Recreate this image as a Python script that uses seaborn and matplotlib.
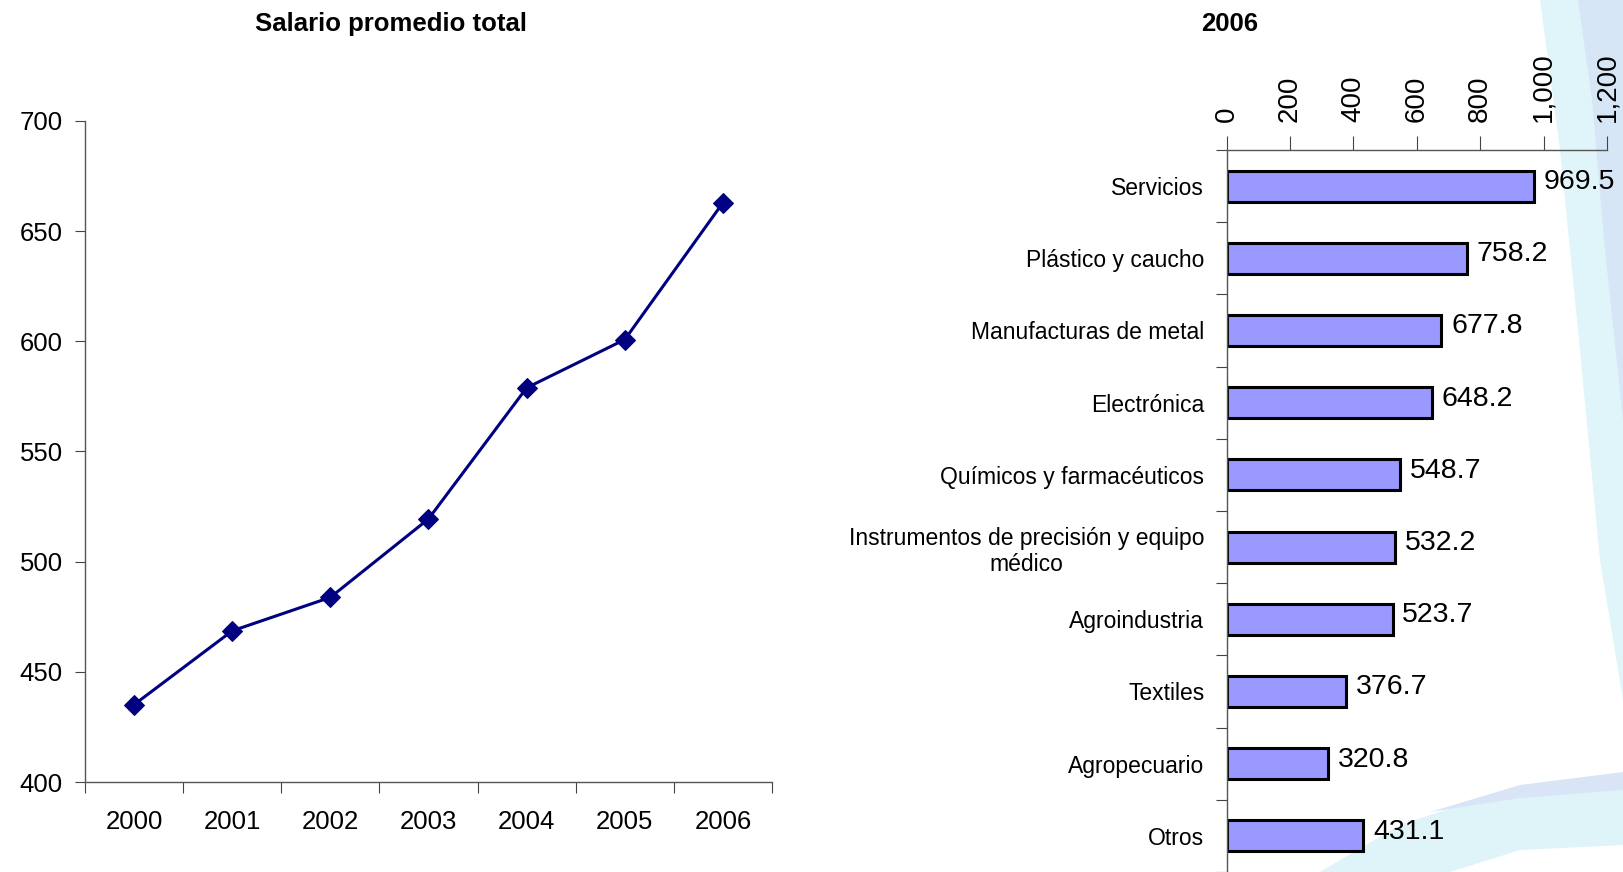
import matplotlib
matplotlib.use("Agg")
import matplotlib.pyplot as plt
import matplotlib.ticker as mticker
from matplotlib.patches import Polygon
import numpy as np
import pandas as pd
import seaborn as sns

# --- data ---
years = ["2000", "2001", "2002", "2003", "2004", "2005", "2006"]
salario = [435.1, 468.6, 483.8, 519.4, 578.9, 600.8, 662.9]

sectores = ["Servicios", "Plástico y caucho", "Manufacturas de metal", "Electrónica",
            "Químicos y farmacéuticos", "Instrumentos de precisión y equipo\nmédico",
            "Agroindustria", "Textiles", "Agropecuario", "Otros"]
salario_2006 = [969.5, 758.2, 677.8, 648.2, 548.7, 532.2, 523.7, 376.7, 320.8, 431.1]

sns.set_style("white")
plt.rcParams['font.family'] = ['Liberation Sans', 'DejaVu Sans']
plt.rcParams.update({'text.color': 'black', 'xtick.labelcolor': 'black', 'ytick.labelcolor': 'black'})

W, H = 1623, 872
fig = plt.figure(figsize=(W / 100, H / 100), dpi=100)


def px(points):
    # pixel coords (origin top-left) -> figure fraction
    return [(x / W, 1 - y / H) for x, y in points]


# faint swoosh in the right corner (slide background)
shapes = [
    ([(1540, 0), (1623, 0), (1623, 700), (1600, 560), (1578, 330), (1560, 150)], "#e0f5f9"),
    ([(1578, 0), (1623, 0), (1623, 420), (1605, 250), (1592, 100)], "#d7e6f6"),
    ([(1320, 872), (1400, 825), (1500, 792), (1623, 780), (1623, 845), (1520, 850), (1450, 872)], "#def4f8"),
    ([(1430, 812), (1520, 785), (1623, 772), (1623, 790), (1520, 798)], "#d9e5f6"),
]
for pts, col in shapes:
    fig.patches.append(Polygon(px(pts), closed=True, transform=fig.transFigure,
                               facecolor=col, edgecolor="none", zorder=0))

# --- line chart ---
ax1 = fig.add_axes([85 / W, 1 - 782 / H, (772 - 85) / W, (782 - 121) / H])
ax1.set_zorder(2)
ax1.patch.set_alpha(0)
line_df = pd.DataFrame({"year": np.arange(len(years)), "salario": salario})
sns.lineplot(data=line_df, x="year", y="salario", ax=ax1, color="#000080", linewidth=2.2,
             marker="D", markersize=10, markeredgecolor="#000080")
ax1.set_xlim(-0.5, len(years) - 0.5)
ax1.set_ylim(400, 700)
ax1.set_yticks(range(400, 701, 50))
ax1.xaxis.set_major_locator(mticker.FixedLocator(np.arange(-0.5, len(years), 1.0)))
ax1.xaxis.set_major_formatter(mticker.NullFormatter())
ax1.xaxis.set_minor_locator(mticker.FixedLocator(np.arange(len(years))))
ax1.xaxis.set_minor_formatter(mticker.FixedFormatter(years))
ax1.tick_params(axis="x", which="major", direction="out", length=8, color="#444444", bottom=True)
ax1.tick_params(axis="x", which="minor", length=0, pad=20, labelsize=18.5, bottom=True)
ax1.tick_params(axis="y", direction="out", length=7, pad=9, labelsize=18.5, color="#444444", left=True)
ax1.set_xlabel("")
ax1.set_ylabel("")
for s in ["top", "right"]:
    ax1.spines[s].set_visible(False)
for s in ["left", "bottom"]:
    ax1.spines[s].set_color("#555555")
    ax1.spines[s].set_linewidth(1)
fig.text(391 / W, 1 - 24 / H, "Salario promedio total", ha="center", va="center",
         fontsize=18.5, fontweight="bold")

# --- bar chart ---
ax2 = fig.add_axes([1226.5 / W, 0, (1607 - 1226.5) / W, (872 - 150) / H])
ax2.set_zorder(2)
ax2.patch.set_alpha(0)
bar_df = pd.DataFrame({"sector": sectores, "salario": salario_2006})
sns.barplot(data=bar_df, x="salario", y="sector", orient="h", ax=ax2, color="#9999FF",
            saturation=1, edgecolor="black", linewidth=2.2, width=0.43)
ax2.set_xlim(0, 1200)
ax2.set_ylim(len(sectores) - 0.5, -0.5)
ax2.xaxis.tick_top()
ax2.set_xticks(range(0, 1201, 200))
ax2.xaxis.set_major_formatter(mticker.FuncFormatter(lambda v, p: f"{int(v):,}"))
ax2.tick_params(axis="x", direction="out", length=10, pad=10, labelsize=20, labelrotation=90,
                color="#444444", top=True)
ax2.yaxis.set_major_locator(mticker.FixedLocator(np.arange(-0.5, len(sectores), 1.0)))
ax2.yaxis.set_major_formatter(mticker.NullFormatter())
ax2.yaxis.set_minor_locator(mticker.FixedLocator(np.arange(len(sectores))))
ax2.yaxis.set_minor_formatter(mticker.FixedFormatter(sectores))
ax2.tick_params(axis="y", which="major", direction="out", length=8, color="#444444", left=True)
ax2.tick_params(axis="y", which="minor", length=0, pad=16, labelsize=16.5, left=True)
for lbl in ax2.get_yticklabels(minor=True):
    lbl.set_multialignment("center")
ax2.set_xlabel("")
ax2.set_ylabel("")
for s in ["bottom", "right"]:
    ax2.spines[s].set_visible(False)
for s in ["left", "top"]:
    ax2.spines[s].set_color("#555555")
    ax2.spines[s].set_linewidth(1)
for cont in ax2.containers:
    labels = ax2.bar_label(cont, fmt="%.1f", padding=7, fontsize=20.5)
    for t in labels:
        t.xyann = (7, 3)
fig.text(1230 / W, 1 - 24 / H, "2006", ha="center", va="center", fontsize=18.5, fontweight="bold")

fig.savefig("out.png", dpi=100)
